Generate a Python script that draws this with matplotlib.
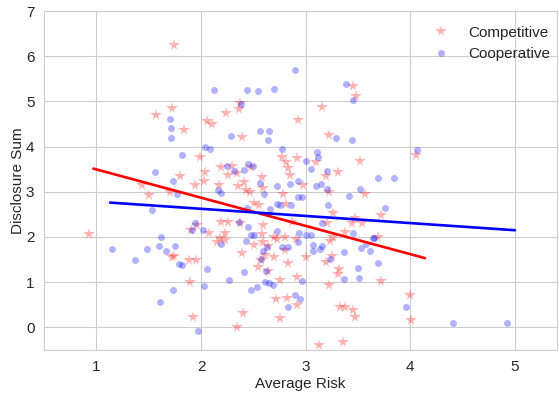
import matplotlib
matplotlib.use("Agg")
import matplotlib.pyplot as plt
import seaborn as sns
import numpy as np

# Competitive group (red stars)
comp_risk = [1.74, 1.57, 1.72, 2.37, 2.36, 2.24, 2.06, 2.10, 2.93, 3.45, 3.48, 3.16,
             1.44, 1.50, 1.70, 0.93, 1.84, 2.39, 1.99, 2.77, 2.81, 2.92, 2.19, 2.30,
             2.34, 2.26, 2.48, 2.83, 2.04, 1.80, 2.03, 2.17, 2.35, 2.41, 2.58, 2.85,
             1.94, 2.43, 2.59, 2.47, 2.78, 2.51, 2.55, 2.81, 1.96, 1.90, 2.19, 2.37,
             2.26, 2.59, 2.08, 2.23, 2.70, 2.80, 2.58, 3.22, 4.05, 3.10, 3.52, 3.19,
             3.31, 2.97, 3.22, 3.57, 3.72, 3.26, 3.47, 3.44, 3.54, 3.20, 3.38, 3.26,
             3.69, 1.72, 1.74, 1.88, 1.95, 1.89, 1.92, 2.34, 2.40, 2.39, 2.18, 2.23,
             2.51, 2.59, 2.64, 2.73, 2.80, 2.91, 2.61, 2.57, 2.70, 2.54, 2.64, 2.83,
             2.75, 2.92, 2.72, 2.82, 2.92, 2.75, 3.23, 3.00, 3.25, 3.19, 3.32, 3.31,
             3.72, 3.22, 3.33, 3.38, 3.45, 3.47, 4.00, 4.01, 3.13, 3.36, 2.15, 2.87]
comp_sum = [6.25, 4.70, 4.86, 4.97, 4.83, 4.75, 4.57, 4.50, 4.59, 5.34, 5.12, 4.88,
            3.16, 2.93, 3.00, 2.07, 4.37, 4.21, 3.77, 3.78, 3.66, 3.75, 3.56, 3.58,
            3.41, 3.38, 3.55, 3.53, 3.44, 3.36, 3.24, 3.16, 3.12, 3.22, 3.33, 3.38,
            3.15, 3.04, 3.09, 3.00, 2.95, 2.76, 2.71, 2.74, 2.26, 2.16, 2.33, 2.31,
            2.33, 2.26, 2.09, 2.08, 2.00, 2.00, 2.06, 4.25, 3.82, 3.67, 3.69, 3.36,
            3.44, 3.16, 3.00, 2.96, 2.48, 2.54, 2.41, 2.30, 2.31, 2.32, 2.11, 2.00,
            2.00, 1.55, 1.58, 1.48, 1.49, 1.00, 0.24, 0.01, 0.32, 1.64, 1.97, 1.94,
            1.83, 1.88, 1.79, 1.95, 1.71, 1.95, 1.60, 1.48, 1.55, 1.33, 1.25, 1.43,
            1.05, 1.11, 0.62, 0.65, 0.50, 0.21, 1.92, 1.55, 1.57, 1.44, 1.30, 1.19,
            1.02, 0.94, 0.44, 0.46, 0.38, 0.23, 0.71, 0.17, -0.40, -0.32, 1.88, 2.34]

# Cooperative group (blue circles)
coop_risk = [1.70, 2.12, 2.44, 2.54, 2.70, 2.90, 2.38, 3.39, 3.45, 1.71, 1.71, 1.56,
             1.73, 1.53, 1.62, 2.29, 2.56, 2.65, 2.64, 2.04, 2.09, 2.77, 1.82, 2.25,
             2.31, 2.41, 2.45, 2.50, 2.56, 2.73, 2.85, 2.93, 2.16, 2.60, 2.93, 1.77,
             2.19, 2.73, 2.75, 2.86, 2.66, 2.44, 1.94, 2.36, 2.45, 2.02, 1.91, 2.73,
             2.48, 2.51, 2.94, 3.29, 3.44, 4.06, 3.11, 3.12, 3.00, 3.05, 3.20, 3.69,
             3.84, 3.10, 3.15, 3.20, 3.52, 3.41, 2.96, 3.21, 3.76, 3.16, 3.45, 3.00,
             3.05, 3.65, 1.15, 1.37, 1.48, 1.60, 1.66, 1.73, 1.61, 1.75, 1.79, 1.82,
             2.06, 2.03, 2.27, 1.97, 2.19, 2.43, 2.59, 2.63, 2.77, 2.83, 2.93, 2.57,
             2.41, 2.62, 2.61, 2.65, 2.69, 2.48, 2.53, 2.90, 2.83, 2.95, 3.07, 3.16,
             3.14, 3.07, 3.37, 3.53, 3.61, 3.58, 3.64, 3.23, 3.69, 3.50, 3.37, 3.51,
             2.96, 3.96, 4.41, 4.92]
coop_sum = [4.61, 5.25, 5.25, 5.23, 5.28, 5.70, 4.95, 5.39, 5.03, 4.41, 4.19, 3.44,
            3.25, 2.60, 1.99, 4.24, 4.34, 4.34, 4.15, 4.00, 3.95, 3.95, 3.82, 3.58,
            3.47, 3.49, 3.62, 3.58, 3.19, 3.12, 3.18, 3.24, 3.05, 2.96, 2.89, 2.96,
            2.97, 2.72, 2.71, 2.71, 2.63, 2.65, 2.32, 2.34, 2.22, 2.15, 2.15, 2.13,
            2.04, 2.04, 2.08, 4.19, 4.14, 3.93, 3.87, 3.77, 3.69, 3.51, 3.46, 3.31,
            3.31, 3.13, 3.17, 3.07, 3.06, 2.90, 2.89, 2.70, 2.65, 2.30, 2.09, 2.04,
            2.05, 1.98, 1.73, 1.49, 1.73, 1.80, 1.69, 0.82, 0.57, 1.80, 1.41, 1.38,
            1.30, 0.91, 1.05, -0.07, 1.85, 1.92, 1.68, 1.77, 1.77, 1.77, 1.88, 1.51,
            1.22, 1.25, 1.00, 0.98, 0.94, 0.83, 0.89, 0.72, 0.45, 0.63, 1.83, 1.80,
            1.73, 1.68, 1.66, 1.75, 1.69, 1.85, 1.97, 1.52, 1.42, 1.31, 1.07, 1.09,
            1.02, 0.46, 0.10, 0.09]

# linear fits (slope, intercept) and x-range they span
comp_fit = (-0.625, 4.12)
comp_fit_range = [0.97, 4.14]
coop_fit = (-0.158, 2.94)
coop_fit_range = [1.13, 5.0]

sns.set_style("whitegrid")
plt.rcParams['font.family'] = ['Liberation Sans', 'DejaVu Sans']

fig, ax = plt.subplots(figsize=(5.59, 3.95), dpi=100)
fig.subplots_adjust(left=0.079, right=0.996, top=0.972, bottom=0.114)

ax.plot(comp_risk, comp_sum, '*', color='red', alpha=0.3, ms=8.5, mew=0, label='Competitive')
ax.plot(coop_risk, coop_sum, 'o', color='blue', alpha=0.3, ms=5, mew=0, label='Cooperative')

xs = np.array(comp_fit_range)
ax.plot(xs, comp_fit[0] * xs + comp_fit[1], color='red', lw=1.9)
xs = np.array(coop_fit_range)
ax.plot(xs, coop_fit[0] * xs + coop_fit[1], color='blue', lw=1.9)

ax.set_xlim(0.5, 5.4)
ax.set_ylim(-0.5, 7)
ax.set_xticks([1, 2, 3, 4, 5])
ax.set_yticks(range(0, 8))
ax.tick_params(labelsize=11)
ax.set_xlabel('Average Risk', fontsize=11, labelpad=2.5)
ax.set_ylabel('Disclosure Sum', fontsize=11, labelpad=1)
ax.legend(loc='upper right', frameon=False, fontsize=11, borderaxespad=0.0,
          bbox_to_anchor=(1.0, 0.975))

plt.savefig('out.png', dpi=100)
